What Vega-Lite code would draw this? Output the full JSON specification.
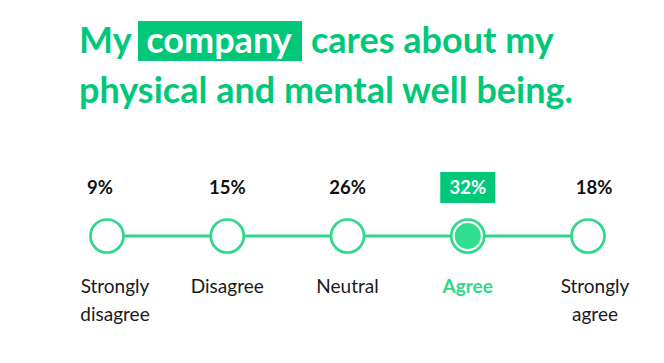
{
  "$schema": "https://vega.github.io/schema/vega-lite/v6.json",
  "width": 664,
  "height": 363,
  "autosize": {"type": "fit", "contains": "padding"},
  "padding": 0,
  "background": "white",
  "config": {"view": {"stroke": null}},
  "data": {
    "values": [
      {"response": "Strongly disagree", "pct": 0.09, "highlight": false},
      {"response": "Disagree", "pct": 0.15, "highlight": false},
      {"response": "Neutral", "pct": 0.26, "highlight": false},
      {"response": "Agree", "pct": 0.32, "highlight": true},
      {"response": "Strongly agree", "pct": 0.18, "highlight": false}
    ]
  },
  "encoding": {
    "x": {
      "field": "response",
      "type": "nominal",
      "scale": {"type": "point", "padding": 0, "domain": ["Strongly disagree", "Disagree", "Neutral", "Agree", "Strongly agree"], "range": [107, 588]},
      "axis": null
    }
  },
  "layer": [
    {
      "mark": {"type": "line", "stroke": "#2ED88A", "strokeWidth": 3},
      "encoding": {"y": {"value": 236}}
    },
    {
      "mark": {"type": "point", "shape": "circle", "filled": true, "fill": "white", "stroke": "#2ED88A", "strokeWidth": 2.7, "size": 1090, "opacity": 1},
      "encoding": {"y": {"value": 236}}
    },
    {
      "transform": [{"filter": "datum.highlight"}],
      "mark": {"type": "point", "shape": "circle", "filled": true, "fill": "#30DE8E", "strokeWidth": 0, "size": 680, "opacity": 1},
      "encoding": {"y": {"value": 236}}
    },
    {
      "transform": [{"filter": "datum.response == 'Disagree' || datum.response == 'Neutral'"}],
      "mark": {"type": "text", "font": "Lato", "fontWeight": "bold", "fontSize": 18.5, "color": "#111111", "baseline": "middle"},
      "encoding": {"y": {"value": 188}, "text": {"field": "pct", "type": "quantitative", "format": ".0%"}}
    },
    {
      "transform": [{"filter": "datum.response == 'Strongly disagree'"}],
      "mark": {"type": "text", "font": "Lato", "fontWeight": "bold", "fontSize": 18.5, "color": "#111111", "baseline": "middle", "dx": -7},
      "encoding": {"y": {"value": 188}, "text": {"field": "pct", "type": "quantitative", "format": ".0%"}}
    },
    {
      "transform": [{"filter": "datum.response == 'Strongly agree'"}],
      "mark": {"type": "text", "font": "Lato", "fontWeight": "bold", "fontSize": 18.5, "color": "#111111", "baseline": "middle", "dx": 6},
      "encoding": {"y": {"value": 188}, "text": {"field": "pct", "type": "quantitative", "format": ".0%"}}
    },
    {
      "transform": [{"filter": "datum.highlight"}],
      "mark": {"type": "point", "shape": "M-1,-0.5636H1V0.5636H-1Z", "filled": true, "fill": "#00C878", "strokeWidth": 0, "size": 3025, "opacity": 1},
      "encoding": {"y": {"value": 187.5}}
    },
    {
      "transform": [{"filter": "datum.highlight"}],
      "mark": {"type": "text", "font": "Lato", "fontWeight": "bold", "fontSize": 18.5, "color": "white", "baseline": "middle"},
      "encoding": {"y": {"value": 188}, "text": {"field": "pct", "type": "quantitative", "format": ".0%"}}
    },
    {
      "transform": [{"filter": "datum.response == 'Disagree' || datum.response == 'Neutral'"}],
      "mark": {"type": "text", "font": "Lato", "fontSize": 19, "color": "#1A1A1A", "baseline": "middle", "lineBreak": " ", "lineHeight": 28},
      "encoding": {"y": {"value": 287}, "text": {"field": "response", "type": "nominal"}}
    },
    {
      "transform": [{"filter": "datum.response == 'Strongly disagree'"}],
      "mark": {"type": "text", "font": "Lato", "fontSize": 19, "color": "#1A1A1A", "baseline": "middle", "lineBreak": " ", "lineHeight": 28, "dx": 8},
      "encoding": {"y": {"value": 287}, "text": {"field": "response", "type": "nominal"}}
    },
    {
      "transform": [{"filter": "datum.response == 'Strongly agree'"}],
      "mark": {"type": "text", "font": "Lato", "fontSize": 19, "color": "#1A1A1A", "baseline": "middle", "lineBreak": " ", "lineHeight": 28, "dx": 7},
      "encoding": {"y": {"value": 287}, "text": {"field": "response", "type": "nominal"}}
    },
    {
      "transform": [{"filter": "datum.highlight"}],
      "mark": {"type": "text", "font": "Lato", "fontWeight": "bold", "fontSize": 19, "color": "#2ED88A", "baseline": "middle"},
      "encoding": {"y": {"value": 287}, "text": {"field": "response", "type": "nominal"}}
    },
    {
      "data": {"values": [{"t": "company"}]},
      "mark": {"type": "point", "shape": "M-1,-0.2439H1V0.2439H-1Z", "filled": true, "fill": "#00C878", "strokeWidth": 0, "size": 26896, "opacity": 1},
      "encoding": {"x": {"value": 220}, "y": {"value": 41}}
    },
    {
      "data": {"values": [{"t": "My"}]},
      "mark": {"type": "text", "font": "Lato", "fontWeight": "bold", "fontSize": 36, "color": "#00C878", "align": "left", "baseline": "alphabetic"},
      "encoding": {"x": {"value": 79}, "y": {"value": 53}, "text": {"field": "t"}}
    },
    {
      "data": {"values": [{"t": "company"}]},
      "mark": {"type": "text", "font": "Lato", "fontWeight": "bold", "fontSize": 36, "color": "white", "align": "center", "baseline": "alphabetic"},
      "encoding": {"x": {"value": 219}, "y": {"value": 53}, "text": {"field": "t"}}
    },
    {
      "data": {"values": [{"t": "cares about my"}]},
      "mark": {"type": "text", "font": "Lato", "fontWeight": "bold", "fontSize": 36, "color": "#00C878", "align": "left", "baseline": "alphabetic"},
      "encoding": {"x": {"value": 311}, "y": {"value": 53}, "text": {"field": "t"}}
    },
    {
      "data": {"values": [{"t": "physical and mental well being."}]},
      "mark": {"type": "text", "font": "Lato", "fontWeight": "bold", "fontSize": 36, "color": "#00C878", "align": "left", "baseline": "alphabetic"},
      "encoding": {"x": {"value": 79}, "y": {"value": 103}, "text": {"field": "t"}}
    }
  ]
}
